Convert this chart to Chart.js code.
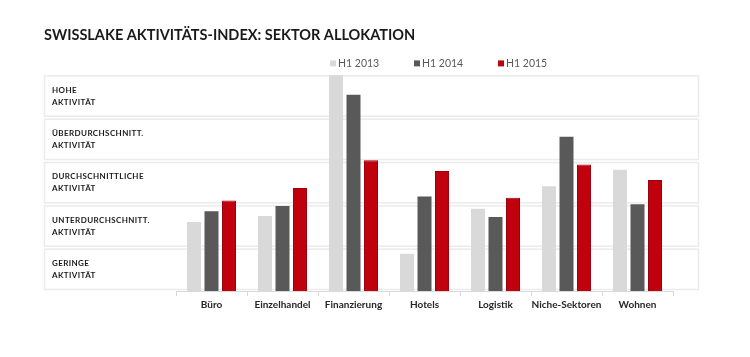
<!DOCTYPE html>
<html>
<head>
<meta charset="utf-8">
<script src="https://cdn.jsdelivr.net/npm/chart.js@4.4.1/dist/chart.umd.min.js"></script>
<style>
  html, body { margin: 0; padding: 0; background: #fff; }
  #wrap { width: 750px; height: 357px; }
</style>
</head>
<body>
<div id="wrap"><canvas id="chart"></canvas></div>
<script>
// Daten
const titel = "SWISSLAKE AKTIVITÄTS-INDEX: SEKTOR ALLOKATION";
const sektoren = ["Büro", "Einzelhandel", "Finanzierung", "Hotels", "Logistik", "Niche-Sektoren", "Wohnen"];
const stufen = [
  ["GERINGE", "AKTIVITÄT"],
  ["UNTERDURCHSCHNITT.", "AKTIVITÄT"],
  ["DURCHSCHNITTLICHE", "AKTIVITÄT"],
  ["ÜBERDURCHSCHNITT.", "AKTIVITÄT"],
  ["HOHE", "AKTIVITÄT"]
];
const serien = ["H1 2013", "H1 2014", "H1 2015"];
const h1_2013 = [1.59, 1.73, 4.98, 0.86, 1.90, 2.42, 2.80];
const h1_2014 = [1.84, 1.96, 4.53, 2.18, 1.71, 3.56, 2.00];
const h1_2015 = [2.09, 2.38, 3.02, 2.77, 2.15, 2.92, 2.56];

const farben = ["#d9d9d9", "#595959", "#c0000c"];
const rahmen = ["#d9d9d9", "#595959", "#9a0010"];

// Zeilen-Boxen mit Beschriftung links
const zeilenPlugin = {
  id: "zeilen",
  beforeDatasetsDraw(chart) {
    const ctx = chart.ctx;
    const y = chart.scales.y;
    const left = y.left;
    const right = chart.chartArea.right + 25;
    ctx.save();
    ctx.strokeStyle = "#ebebeb";
    ctx.lineWidth = 1.5;
    for (let i = 0; i < stufen.length; i++) {
      const top = y.getPixelForValue(i + 1);
      const bottom = y.getPixelForValue(i);
      ctx.strokeRect(left + 0.5, top + 1.5, right - left, bottom - top - 3);
      const mitte = y.getPixelForValue(i + 0.5);
      ctx.fillStyle = "#1a1a1a";
      ctx.font = "bold 8px Lato";
      ctx.textBaseline = "middle";
      ctx.textAlign = "left";
      if ("letterSpacing" in ctx) ctx.letterSpacing = "0.4px";
      ctx.fillText(stufen[i][0], left + 8, mitte - 6);
      ctx.fillText(stufen[i][1], left + 8, mitte + 6);
    }
    ctx.restore();
  }
};

// Legende oben
const legendePlugin = {
  id: "legende",
  afterDraw(chart) {
    const ctx = chart.ctx;
    const startX = chart.chartArea.left + 154;
    const yPos = chart.chartArea.top - 11;
    ctx.save();
    ctx.font = "10.5px Lato";
    ctx.textBaseline = "middle";
    ctx.textAlign = "left";
    chart.data.datasets.forEach((ds, i) => {
      const x = startX + i * 84;
      ctx.fillStyle = ds.backgroundColor;
      ctx.fillRect(x, yPos - 3, 6, 6);
      ctx.fillStyle = "#595959";
      ctx.fillText(ds.label, x + 8, yPos);
    });
    ctx.restore();
  }
};

const ctx = document.getElementById("chart").getContext("2d");
new Chart(ctx, {
  type: "bar",
  data: {
    labels: sektoren,
    datasets: [h1_2013, h1_2014, h1_2015].map((werte, i) => ({
      label: serien[i],
      data: werte,
      backgroundColor: farben[i],
      borderColor: rahmen[i],
      borderWidth: i === 2 ? 1 : 0,
      categoryPercentage: 0.74,
      barPercentage: 0.8
    }))
  },
  options: {
    responsive: true,
    maintainAspectRatio: false,
    animation: false,
    layout: { padding: { left: 44, right: 77, top: 0, bottom: 43 } },
    plugins: {
      legend: { display: false },
      tooltip: { enabled: false },
      title: {
        display: true,
        text: titel,
        align: "start",
        color: "#1a1a1a",
        font: { family: "Lato", size: 14.5, weight: "bold" },
        padding: { top: 27, bottom: 30 }
      }
    },
    scales: {
      x: {
        offset: true,
        grid: { display: true, drawOnChartArea: false, tickLength: 5, color: "#d9d9d9", offset: true },
        border: { display: true, color: "#d9d9d9" },
        ticks: {
          color: "#262626",
          font: { family: "Lato", size: 10, weight: "bold" },
          padding: 3,
          maxRotation: 0,
          minRotation: 0,
          autoSkip: false
        }
      },
      y: {
        min: 0,
        max: 5,
        ticks: { display: false, stepSize: 1 },
        grid: { display: false },
        border: { display: false },
        afterFit(scale) { scale.width = 132; }
      }
    }
  },
  plugins: [zeilenPlugin, legendePlugin]
});
</script>
</body>
</html>
